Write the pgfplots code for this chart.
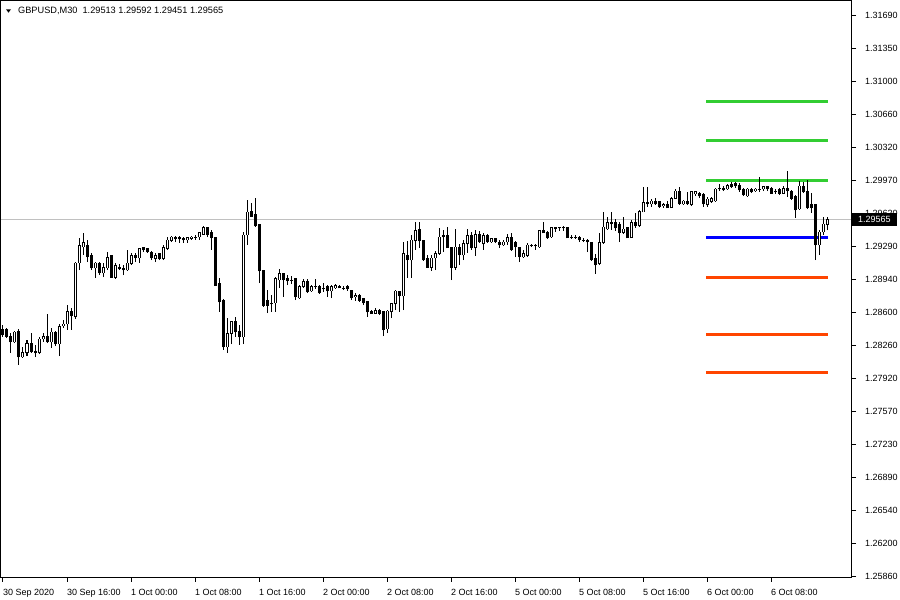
\documentclass[border=0pt]{standalone}
\usepackage{pgfplots}
\pgfplotsset{compat=1.18}
\usepackage{pgfplotstable}
\usepackage{fontspec}
\setmainfont{Liberation Sans}
\definecolor{mtgray}{RGB}{192,192,192}
\definecolor{pivgreen}{RGB}{50,205,50}
\definecolor{pivblue}{RGB}{0,0,255}
\definecolor{pivred}{RGB}{255,69,0}

\pgfplotstableread{
i o h l c
0 1.28427 1.28469 1.28344 1.28365
1 1.28417 1.28437 1.28333 1.28354
2 1.28354 1.28385 1.28178 1.28292
3 1.28292 1.28406 1.28281 1.28396
4 1.28406 1.28427 1.28053 1.28136
5 1.28136 1.28240 1.28126 1.28178
6 1.28178 1.28313 1.28146 1.28281
7 1.28281 1.28385 1.28178 1.28188
8 1.28198 1.28261 1.28136 1.28178
9 1.28178 1.28344 1.28167 1.28323
10 1.28323 1.28385 1.28292 1.28354
11 1.28354 1.28583 1.28281 1.28292
12 1.28292 1.28437 1.28230 1.28396
13 1.28396 1.28406 1.28250 1.28271
14 1.28271 1.28479 1.28146 1.28448
15 1.28458 1.28521 1.28437 1.28479
16 1.28479 1.28676 1.28417 1.28604
17 1.28614 1.28645 1.28417 1.28562
18 1.28552 1.29123 1.28531 1.29113
19 1.29113 1.29373 1.29040 1.29290
20 1.29279 1.29425 1.29196 1.29321
21 1.29300 1.29352 1.29123 1.29175
22 1.29196 1.29217 1.29040 1.29061
23 1.29061 1.29123 1.28957 1.29113
24 1.29113 1.29123 1.28988 1.29009
25 1.29009 1.29113 1.28967 1.29071
26 1.29061 1.29227 1.29040 1.29175
27 1.29186 1.29196 1.28957 1.28967
28 1.28967 1.29113 1.28947 1.29082
29 1.29071 1.29103 1.29040 1.29051
30 1.29061 1.29092 1.28988 1.29040
31 1.29040 1.29248 1.29030 1.29113
32 1.29103 1.29217 1.29092 1.29186
33 1.29186 1.29217 1.29123 1.29165
34 1.29165 1.29269 1.29113 1.29259
35 1.29269 1.29279 1.29227 1.29248
36 1.29259 1.29269 1.29217 1.29227
37 1.29227 1.29238 1.29144 1.29165
38 1.29155 1.29217 1.29123 1.29186
39 1.29207 1.29217 1.29144 1.29155
40 1.29155 1.29300 1.29144 1.29269
41 1.29259 1.29383 1.29248 1.29352
42 1.29342 1.29394 1.29331 1.29383
43 1.29383 1.29394 1.29331 1.29363
44 1.29373 1.29394 1.29321 1.29363
45 1.29363 1.29383 1.29321 1.29352
46 1.29352 1.29383 1.29321 1.29373
47 1.29363 1.29394 1.29352 1.29383
48 1.29383 1.29404 1.29352 1.29383
49 1.29383 1.29435 1.29352 1.29425
50 1.29414 1.29498 1.29404 1.29477
51 1.29477 1.29487 1.29383 1.29414
52 1.29425 1.29456 1.29248 1.29373
53 1.29373 1.29383 1.28874 1.28884
54 1.28895 1.28957 1.28604 1.28708
55 1.28728 1.28739 1.28209 1.28240
56 1.28240 1.28541 1.28178 1.28385
57 1.28385 1.28510 1.28271 1.28500
58 1.28500 1.28552 1.28344 1.28396
59 1.28406 1.28469 1.28261 1.28344
60 1.28344 1.29435 1.28271 1.29404
61 1.29404 1.29768 1.29300 1.29643
62 1.29653 1.29737 1.29601 1.29601
63 1.29612 1.29788 1.29487 1.29498
64 1.29508 1.29508 1.28905 1.29030
65 1.29040 1.29040 1.28656 1.28676
66 1.28728 1.28832 1.28593 1.28676
67 1.28697 1.28780 1.28604 1.28687
68 1.28697 1.28967 1.28604 1.28947
69 1.28936 1.29051 1.28853 1.28999
70 1.28999 1.29009 1.28760 1.28936
71 1.28947 1.28988 1.28884 1.28926
72 1.28936 1.28978 1.28895 1.28936
73 1.28947 1.28957 1.28728 1.28760
74 1.28749 1.28884 1.28739 1.28864
75 1.28864 1.28947 1.28853 1.28916
76 1.28916 1.28947 1.28801 1.28812
77 1.28822 1.28884 1.28812 1.28864
78 1.28874 1.28947 1.28843 1.28864
79 1.28874 1.28884 1.28791 1.28801
80 1.28853 1.28905 1.28812 1.28843
81 1.28864 1.28884 1.28760 1.28822
82 1.28822 1.28884 1.28749 1.28864
83 1.28853 1.28895 1.28843 1.28884
84 1.28874 1.28884 1.28853 1.28853
85 1.28853 1.28874 1.28832 1.28853
86 1.28864 1.28884 1.28822 1.28843
87 1.28832 1.28832 1.28728 1.28749
88 1.28760 1.28801 1.28718 1.28780
89 1.28780 1.28791 1.28708 1.28728
90 1.28739 1.28749 1.28676 1.28697
91 1.28708 1.28708 1.28552 1.28604
92 1.28604 1.28624 1.28583 1.28593
93 1.28593 1.28645 1.28583 1.28624
94 1.28624 1.28635 1.28572 1.28593
95 1.28604 1.28604 1.28354 1.28417
96 1.28427 1.28624 1.28385 1.28614
97 1.28604 1.28697 1.28541 1.28687
98 1.28687 1.28832 1.28624 1.28822
99 1.28822 1.28822 1.28604 1.28770
100 1.28770 1.29331 1.28624 1.29207
101 1.29196 1.29342 1.28957 1.29144
102 1.29144 1.29404 1.28957 1.29352
103 1.29342 1.29539 1.29248 1.29446
104 1.29456 1.29539 1.29269 1.29342
105 1.29342 1.29352 1.29134 1.29144
106 1.29165 1.29196 1.29061 1.29071
107 1.29071 1.29196 1.29030 1.29165
108 1.29165 1.29238 1.29040 1.29207
109 1.29207 1.29477 1.29196 1.29383
110 1.29394 1.29456 1.29227 1.29383
111 1.29394 1.29487 1.29269 1.29269
112 1.29279 1.29279 1.28936 1.29071
113 1.29071 1.29466 1.29040 1.29279
114 1.29279 1.29311 1.29092 1.29196
115 1.29196 1.29352 1.29144 1.29311
116 1.29311 1.29466 1.29217 1.29394
117 1.29394 1.29435 1.29248 1.29269
118 1.29269 1.29456 1.29186 1.29414
119 1.29414 1.29446 1.29321 1.29331
120 1.29311 1.29425 1.29248 1.29394
121 1.29394 1.29414 1.29321 1.29331
122 1.29331 1.29373 1.29321 1.29363
123 1.29363 1.29373 1.29321 1.29331
124 1.29331 1.29352 1.29269 1.29300
125 1.29300 1.29352 1.29290 1.29331
126 1.29331 1.29414 1.29300 1.29373
127 1.29373 1.29425 1.29238 1.29248
128 1.29331 1.29342 1.29175 1.29279
129 1.29269 1.29269 1.29123 1.29175
130 1.29175 1.29248 1.29165 1.29207
131 1.29186 1.29321 1.29175 1.29300
132 1.29300 1.29311 1.29279 1.29290
133 1.29290 1.29311 1.29248 1.29290
134 1.29279 1.29456 1.29269 1.29446
135 1.29446 1.29539 1.29425 1.29425
136 1.29435 1.29446 1.29363 1.29373
137 1.29383 1.29487 1.29373 1.29477
138 1.29477 1.29487 1.29435 1.29466
139 1.29477 1.29487 1.29446 1.29477
140 1.29477 1.29498 1.29446 1.29477
141 1.29477 1.29487 1.29373 1.29373
142 1.29383 1.29404 1.29363 1.29383
143 1.29383 1.29404 1.29363 1.29383
144 1.29383 1.29394 1.29331 1.29352
145 1.29352 1.29373 1.29331 1.29352
146 1.29352 1.29363 1.29227 1.29331
147 1.29331 1.29331 1.29134 1.29144
148 1.29155 1.29207 1.28999 1.29092
149 1.29103 1.29425 1.29092 1.29321
150 1.29321 1.29643 1.29311 1.29487
151 1.29466 1.29591 1.29456 1.29529
152 1.29529 1.29643 1.29456 1.29518
153 1.29529 1.29570 1.29446 1.29477
154 1.29518 1.29539 1.29331 1.29425
155 1.29425 1.29591 1.29414 1.29466
156 1.29477 1.29487 1.29373 1.29373
157 1.29373 1.29560 1.29373 1.29529
158 1.29529 1.29633 1.29477 1.29498
159 1.29498 1.29664 1.29487 1.29653
160 1.29643 1.29903 1.29643 1.29737
161 1.29737 1.29903 1.29695 1.29726
162 1.29726 1.29778 1.29695 1.29757
163 1.29757 1.29788 1.29716 1.29726
164 1.29747 1.29747 1.29685 1.29695
165 1.29705 1.29737 1.29685 1.29716
166 1.29716 1.29757 1.29685 1.29685
167 1.29685 1.29799 1.29685 1.29788
168 1.29788 1.29882 1.29778 1.29861
169 1.29861 1.29903 1.29716 1.29726
170 1.29726 1.29768 1.29716 1.29757
171 1.29757 1.29851 1.29716 1.29726
172 1.29716 1.29861 1.29705 1.29851
173 1.29830 1.29861 1.29809 1.29851
174 1.29840 1.29851 1.29788 1.29809
175 1.29820 1.29840 1.29695 1.29726
176 1.29716 1.29799 1.29695 1.29778
177 1.29747 1.29799 1.29737 1.29788
178 1.29757 1.29892 1.29747 1.29882
179 1.29892 1.29934 1.29861 1.29882
180 1.29892 1.29913 1.29861 1.29872
181 1.29882 1.29934 1.29872 1.29923
182 1.29934 1.29955 1.29892 1.29903
183 1.29944 1.29955 1.29892 1.29913
184 1.29923 1.29944 1.29851 1.29872
185 1.29882 1.29892 1.29809 1.29820
186 1.29809 1.29892 1.29799 1.29882
187 1.29882 1.29892 1.29840 1.29851
188 1.29861 1.29892 1.29851 1.29882
189 1.29882 1.30007 1.29851 1.29882
190 1.29882 1.29913 1.29861 1.29903
191 1.29903 1.29913 1.29861 1.29882
192 1.29892 1.29903 1.29830 1.29840
193 1.29851 1.29882 1.29830 1.29851
194 1.29882 1.29892 1.29820 1.29840
195 1.29840 1.29913 1.29830 1.29892
196 1.29892 1.30069 1.29799 1.29861
197 1.29861 1.29872 1.29768 1.29788
198 1.29809 1.29820 1.29581 1.29664
199 1.29674 1.29965 1.29664 1.29913
200 1.29913 1.29955 1.29840 1.29851
201 1.29861 1.29975 1.29674 1.29685
202 1.29716 1.29840 1.29633 1.29685
203 1.29716 1.29726 1.29144 1.29300
204 1.29300 1.29456 1.29196 1.29435
205 1.29435 1.29591 1.29404 1.29518
206 1.29513 1.29592 1.29451 1.29565
}\candles

\begin{document}
\begin{tikzpicture}
\path[use as bounding box] (0pt,0pt) rectangle (900pt,600pt);
\begin{axis}[
  at={(1pt,23pt)}, anchor=south west,
  width=850pt, height=576pt, scale only axis,
  xmin=-0.5, xmax=212, ymin=1.258498, ymax=1.318356,
  axis line style={black, line width=1pt},
  xtick={0,16,...,192},
  xticklabels={30 Sep 2020, 30 Sep 16:00, 1 Oct 00:00, 1 Oct 08:00, 1 Oct 16:00, 2 Oct 00:00, 2 Oct 08:00, 2 Oct 16:00, 5 Oct 00:00, 5 Oct 08:00, 5 Oct 16:00, 6 Oct 00:00, 6 Oct 08:00},
  ytick={1.25860,1.262029,1.265459,1.268888,1.272318,1.275747,1.279176,1.282606,1.286035,1.289465,1.292894,1.296324,1.299753,1.303182,1.306612,1.310041,1.313471,1.31690},
  yticklabels={1.25860,1.26200,1.26540,1.26890,1.27230,1.27570,1.27920,1.28260,1.28600,1.28940,1.29290,1.29620,1.29970,1.30320,1.30660,1.31000,1.31350,1.31690},
  xtick pos=bottom, ytick pos=right,
  yticklabel pos=right,
  tick align=outside,
  major tick length=5pt,
  tick style={black, line width=1pt},
  ticklabel style={font=\fontsize{9}{10}\selectfont},
  xticklabel style={anchor=north west, inner sep=0pt, yshift=-7pt},
  yticklabel style={anchor=west, inner sep=0pt, xshift=9pt},
]
% current price line
\addplot[mtgray, line width=1pt, forget plot] coordinates {(-0.5,1.29565) (212,1.29565)};
% pivot levels
\addplot[pivgreen, line width=3pt, forget plot] coordinates {(175.75,1.30796) (206.25,1.30796)};
\addplot[pivgreen, line width=3pt, forget plot] coordinates {(175.75,1.30391) (206.25,1.30391)};
\addplot[pivgreen, line width=3pt, forget plot] coordinates {(175.75,1.29975) (206.25,1.29975)};
\addplot[pivblue, line width=3pt, forget plot] coordinates {(175.75,1.29383) (206.25,1.29383)};
\addplot[pivred, line width=3pt, forget plot] coordinates {(175.75,1.28967) (206.25,1.28967)};
\addplot[pivred, line width=3pt, forget plot] coordinates {(175.75,1.28375) (206.25,1.28375)};
\addplot[pivred, line width=3pt, forget plot] coordinates {(175.75,1.27970) (206.25,1.27970)};
% wicks
\addplot[draw=none, mark=none, forget plot,
  error bars/.cd, y dir=plus, y explicit, error mark=none,
  error bar style={draw=black, line width=1pt}]
  table[x=i, y=l, y error plus expr={\thisrow{h}-\thisrow{l}}] {\candles};
% bodies
\addplot[draw=none, mark=none, forget plot,
  error bars/.cd, y dir=plus, y explicit, error mark=none,
  error bar style={draw=black, line width=3pt}]
  table[x=i, y expr={min(\thisrow{o},\thisrow{c})-0.00005}, y error plus expr={abs(\thisrow{c}-\thisrow{o})+0.0001}] {\candles};
% hollow interiors of rising candles
\addplot[draw=none, mark=none, forget plot,
  error bars/.cd, y dir=plus, y explicit, error mark=none,
  error bar style={draw=white, line width=1pt}]
  table[x=i, y expr={\thisrow{o}+0.00005}, y error plus expr={max(\thisrow{c}-\thisrow{o}-0.0001,0)}] {\candles};
\coordinate (cp) at (axis cs:212,1.29565);
\end{axis}
\node[fill=black, text=white, anchor=west, inner xsep=6pt, inner ysep=0pt, minimum height=13pt, font=\fontsize{9}{10}\selectfont] at ([xshift=1pt]cp) {1.29565};
\fill (6pt,590.7pt) -- (11pt,590.7pt) -- (8.5pt,587.3pt) -- cycle;
\node[anchor=west, inner sep=0pt, font=\fontsize{9.2}{11}\selectfont] at (18pt,589pt) {GBPUSD,M30\ \ 1.29513 1.29592 1.29451 1.29565};
\end{tikzpicture}
\end{document}
